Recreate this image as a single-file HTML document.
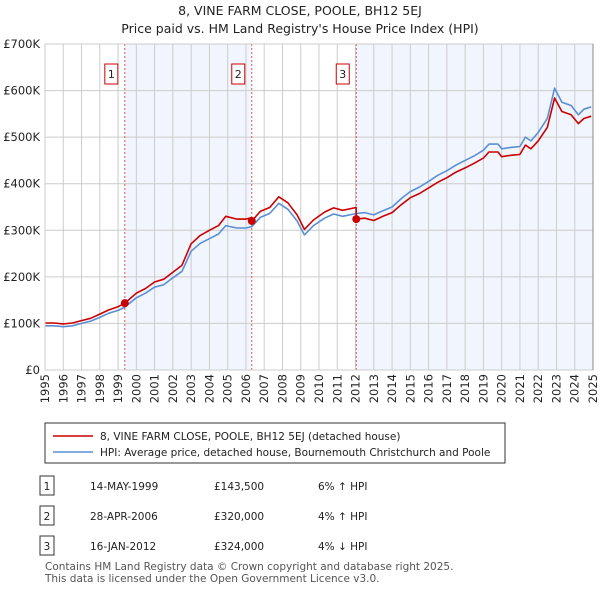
<!DOCTYPE html>
<html><head><meta charset="utf-8"><style>
body{margin:0;background:#fff;font-family:"Liberation Sans","DejaVu Sans",sans-serif;}
svg text{font-family:"DejaVu Sans","Liberation Sans",sans-serif;}
</style></head><body>
<svg id="chart" width="600" height="590" xmlns="http://www.w3.org/2000/svg">
<text x="300" y="15" text-anchor="middle" font-size="12.5" fill="#222">8, VINE FARM CLOSE, POOLE, BH12 5EJ</text>
<text x="300" y="33" text-anchor="middle" font-size="12.5" fill="#222">Price paid vs. HM Land Registry's House Price Index (HPI)</text>
<g id="plot"></g>
<g>
<rect x="45" y="423" width="460" height="40" fill="#fff" stroke="#333"/>
<line x1="53" y1="436" x2="93" y2="436" stroke="#cc0000" stroke-width="1.5"/>
<text x="100" y="440" font-size="10.5" fill="#222">8, VINE FARM CLOSE, POOLE, BH12 5EJ (detached house)</text>
<line x1="53" y1="452" x2="93" y2="452" stroke="#5b8fd4" stroke-width="1.5"/>
<text x="100" y="456" font-size="10.5" fill="#222">HPI: Average price, detached house, Bournemouth Christchurch and Poole</text>
</g>
<g id="table" font-size="10.5" fill="#222"></g>
<text x="45" y="570" font-size="10.5" fill="#555">Contains HM Land Registry data © Crown copyright and database right 2025.</text>
<text x="45" y="582" font-size="10.5" fill="#555">This data is licensed under the Open Government Licence v3.0.</text>
</svg>
<script>
const hpiYears=[1995,1995.5,1996,1996.5,1997,1997.5,1998,1998.5,1999,1999.37,2000,2000.5,2001,2001.5,2002,2002.5,2003,2003.5,2004,2004.5,2004.9,2005.5,2006,2006.32,2006.8,2007.3,2007.8,2008.3,2008.8,2009.2,2009.7,2010.3,2010.8,2011.3,2012.04,2012.5,2013,2013.5,2014,2014.5,2015,2015.5,2016,2016.5,2017,2017.5,2018,2018.5,2019,2019.3,2019.8,2020,2020.5,2021,2021.3,2021.6,2022,2022.5,2022.9,2023.3,2023.8,2024.2,2024.5,2024.9];
const hpiValues=[95,95,93,95,100,105,113,122,128,135,155,165,178,183,198,212,255,272,282,292,310,305,305,308,328,336,358,345,320,290,310,326,335,330,336,338,333,342,350,368,383,393,405,418,428,440,450,460,472,485,485,475,478,480,500,492,510,540,605,575,568,548,560,565];
const priceYears=[1995,1995.5,1996,1996.5,1997,1997.5,1998,1998.5,1999,1999.37,2000,2000.5,2001,2001.5,2002,2002.5,2003,2003.5,2004,2004.5,2004.9,2005.5,2006,2006.3,2006.32,2006.8,2007.3,2007.8,2008.3,2008.8,2009.2,2009.7,2010.3,2010.8,2011.3,2012.03,2012.04,2012.5,2013,2013.5,2014,2014.5,2015,2015.5,2016,2016.5,2017,2017.5,2018,2018.5,2019,2019.3,2019.8,2020,2020.5,2021,2021.3,2021.6,2022,2022.5,2022.9,2023.3,2023.8,2024.2,2024.5,2024.9];
const priceValues=[101,101,99,101,106,111,120,129,136,143.5,165,175,189,195,210,225,271,289,300,310,330,324,324,327,320,341,349,372,359,333,302,322,339,348,343,349,324,326,321,330,338,355,370,379,391,403,413,425,434,444,455,468,468,458,461,463,483,475,492,521,584,555,548,529,540,545];
const saleLabels=["1","2","3"];
const saleYears=[1999.37,2006.32,2012.04];
const saleValues=[143.5,320,324];
const saleDates=["14-MAY-1999","28-APR-2006","16-JAN-2012"];
const salePrices=["£143,500","£320,000","£324,000"];
const saleDiffs=["6% ↑ HPI","4% ↑ HPI","4% ↓ HPI"];
const yTicks=[0,100,200,300,400,500,600,700];
const yTickLabels=["£0","£100K","£200K","£300K","£400K","£500K","£600K","£700K"];
const xTicks=[1995,1996,1997,1998,1999,2000,2001,2002,2003,2004,2005,2006,2007,2008,2009,2010,2011,2012,2013,2014,2015,2016,2017,2018,2019,2020,2021,2022,2023,2024,2025];

const NS="http://www.w3.org/2000/svg";
const X0=45,X1=593,Y0=370,Y1=44;
const xs=t=>X0+(t-1995)/30*(X1-X0);
const ys=v=>Y0-v/700*(Y0-Y1);
const plot=document.getElementById('plot');
function mk(tag,attrs,parent){const e=document.createElementNS(NS,tag);for(const k in attrs)e.setAttribute(k,attrs[k]);(parent||plot).appendChild(e);return e;}
// shading
let s1=mk('rect',{x:xs(saleYears[0]),y:Y1,width:xs(saleYears[1])-xs(saleYears[0]),height:Y0-Y1,fill:'#eef3fc',opacity:0.8});


let s3=mk('rect',{x:xs(saleYears[2]),y:Y1,width:X1-xs(saleYears[2]),height:Y0-Y1,fill:'#eef3fc',opacity:0.8});


// grid
xTicks.forEach((t,i)=>{
 let l=mk('line',{x1:xs(t),x2:xs(t),y1:Y1,y2:Y0,stroke:'#cccccc','stroke-width':1});
 
 
 let tx=mk('text',{x:0,y:0,transform:`translate(${xs(t)+4},${Y0+4}) rotate(-90)`,'text-anchor':'end','font-size':11.5,fill:'#222'});
 tx.textContent=t;
 
 
});
yTicks.forEach((v,i)=>{
 let l=mk('line',{x1:X0,x2:X1,y1:ys(v),y2:ys(v),stroke:'#cccccc','stroke-width':1});
 
 
 let tx=mk('text',{x:40,y:ys(v)+4,'text-anchor':'end','font-size':11.5,fill:'#222'});
 tx.textContent=yTickLabels[i];
 
 
});
// sale vlines and boxes
saleYears.forEach((t,i)=>{
 let l=mk('line',{x1:xs(t),x2:xs(t),y1:Y1,y2:Y0,stroke:'#e05555','stroke-width':1,'stroke-dasharray':'2,2'});
 
 
 let b=mk('rect',{x:xs(t)-20,y:64,width:13,height:20,fill:'#fff',stroke:'#cc0000'});
 
 
 let tx=mk('text',{x:xs(t)-13.5,y:78,'text-anchor':'middle','font-size':11,fill:'#222'});
 tx.textContent=saleLabels[i];
 
 
});
function path(xa,va,color,name){
 let d=xa.map((t,i)=>(i?'L':'M')+xs(t).toFixed(1)+','+ys(va[i]).toFixed(1)).join('');
 let p=mk('path',{d:d,fill:'none',stroke:color,'stroke-width':1.6,'stroke-linejoin':'round'});
 
 
}
path(hpiYears,hpiValues,'#5b8fd4','hpi-line');
path(priceYears,priceValues,'#cc0000','price-paid-line');
saleYears.forEach((t,i)=>{
 let c=mk('circle',{cx:xs(t),cy:ys(saleValues[i]),r:4,fill:'#cc0000'});
 
 
});
mk('rect',{x:X0,y:Y1,width:X1-X0,height:Y0-Y1,fill:'none',stroke:'#cccccc'});
mk('line',{x1:X1,x2:X1,y1:Y1,y2:Y0,stroke:'#888'});
// table
const tbl=document.getElementById('table');
const rowY=[486,516,546];
saleLabels.forEach((s,i)=>{
 let y=rowY[i];
 let b=mk('rect',{x:40,y:y-10,width:14,height:19,fill:'#fff',stroke:'#333'},tbl);
 
 
 const cells=[[47,s,'middle'],[90,saleDates[i],'start'],[214,salePrices[i],'start'],[318,saleDiffs[i],'start']];
 cells.forEach(c=>{
  let tx=mk('text',{x:c[0],y:y+4,'text-anchor':c[2],'font-size':10.5,fill:'#222'},tbl);
  tx.textContent=c[1];
  
  
 });
});
</script>
</body></html>
